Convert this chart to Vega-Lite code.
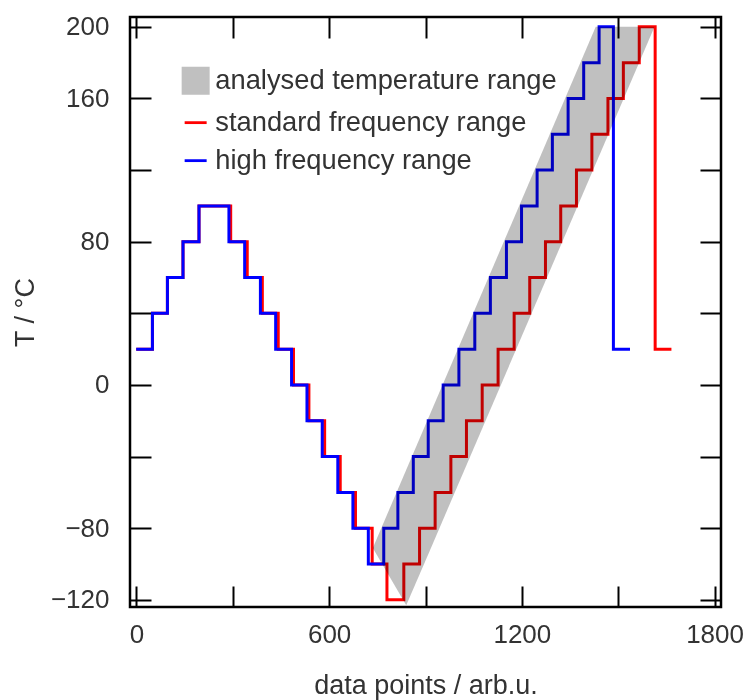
{
  "$schema": "https://vega.github.io/schema/vega-lite/v6.json",
  "width": 591,
  "height": 590,
  "autosize": "none",
  "padding": {"left": 130, "top": 17, "right": 24, "bottom": 93},
  "background": "white",
  "config": {
    "font": "Liberation Sans",
    "view": {"stroke": "black", "strokeWidth": 2.5},
    "axis": {"grid": false, "domain": false, "tickColor": "black", "tickWidth": 2, "labelFont": "Liberation Sans", "titleFont": "Liberation Sans", "labelFontSize": 26, "titleFontSize": 27, "labelColor": "#333333", "titleColor": "#333333", "titleFontWeight": "normal", "labelOverlap": false, "labelFlush": false},
    "legend": {"labelFont": "Liberation Sans", "labelFontSize": 27.3, "labelColor": "#333333", "labelLimit": 0}
  },
  "datasets": {
    "red": [
      {"x": 4, "T": 20}, {"x": 49.8, "T": 40}, {"x": 96.5, "T": 60}, {"x": 145, "T": 80}, {"x": 194.8, "T": 100},
      {"x": 293.5, "T": 80}, {"x": 345, "T": 60}, {"x": 392, "T": 40}, {"x": 441.5, "T": 20}, {"x": 489, "T": 0},
      {"x": 537, "T": -20}, {"x": 586, "T": -40}, {"x": 634.5, "T": -60}, {"x": 682, "T": -80}, {"x": 734, "T": -100},
      {"x": 780, "T": -120}, {"x": 832.5, "T": -100}, {"x": 881.5, "T": -80}, {"x": 930, "T": -60}, {"x": 979, "T": -40},
      {"x": 1027.5, "T": -20}, {"x": 1076.5, "T": 0}, {"x": 1126, "T": 20}, {"x": 1176, "T": 40}, {"x": 1224.5, "T": 60},
      {"x": 1273.5, "T": 80}, {"x": 1321, "T": 100}, {"x": 1370, "T": 120}, {"x": 1418, "T": 140}, {"x": 1468, "T": 160},
      {"x": 1516, "T": 180}, {"x": 1565.5, "T": 200}, {"x": 1615, "T": 20}, {"x": 1661, "T": 20}
    ],
    "blue": [
      {"x": 4, "T": 20}, {"x": 49.8, "T": 40}, {"x": 96.5, "T": 60}, {"x": 145, "T": 80}, {"x": 194.8, "T": 100},
      {"x": 288, "T": 80}, {"x": 337, "T": 60}, {"x": 386, "T": 40}, {"x": 433.5, "T": 20}, {"x": 483, "T": 0},
      {"x": 531, "T": -20}, {"x": 578.5, "T": -40}, {"x": 627, "T": -60}, {"x": 674, "T": -80}, {"x": 722, "T": -100},
      {"x": 770, "T": -80}, {"x": 814, "T": -60}, {"x": 862, "T": -40}, {"x": 908.5, "T": -20}, {"x": 955, "T": 0},
      {"x": 1004, "T": 20}, {"x": 1053.5, "T": 40}, {"x": 1102, "T": 60}, {"x": 1152, "T": 80}, {"x": 1199, "T": 100},
      {"x": 1247.5, "T": 120}, {"x": 1295, "T": 140}, {"x": 1344, "T": 160}, {"x": 1392.5, "T": 180}, {"x": 1440.5, "T": 200},
      {"x": 1485, "T": 20}, {"x": 1532, "T": 20}
    ],
    "band": [
      {"T": -123, "xl": 840, "xr": 840},
      {"T": -91, "xl": 736, "xr": 917},
      {"T": 200, "xl": 1430, "xr": 1613}
    ]
  },
  "resolve": {"axis": {"x": "independent", "y": "independent"}},
  "layer": [
    {
      "data": {"name": "red"},
      "transform": [{"calculate": "'standard frequency range'", "as": "series"}],
      "mark": {"type": "line", "interpolate": "step-after", "strokeWidth": 3, "strokeCap": "square"},
      "encoding": {
        "x": {"field": "x", "type": "quantitative", "scale": {"domain": [-20, 1820], "nice": false, "zero": false},
          "axis": {"orient": "bottom", "values": [0, 300, 600, 900, 1200, 1500, 1800],
            "labelExpr": "indexof([0, 600, 1200, 1800], datum.value) >= 0 ? datum.label : ''",
            "format": "d", "tickSize": -21, "labelPadding": 35,
            "title": "data points / arb.u.", "titleX": 295.5, "titleY": 86, "titleBaseline": "alphabetic", "titleAlign": "center"}},
        "y": {"field": "T", "type": "quantitative", "scale": {"domain": [-124, 205.5], "nice": false, "zero": false},
          "axis": {"orient": "left", "values": [-120, -80, -40, 0, 40, 80, 120, 160, 200],
            "labelExpr": "indexof([-120, -80, 0, 80, 160, 200], datum.value) >= 0 ? datum.label : ''",
            "tickSize": -21, "labelPadding": 42,
            "title": "T / °C", "titleX": -97, "titleY": 295, "titleAngle": -90, "titleBaseline": "alphabetic", "titleAlign": "center"}},
        "color": {"field": "series", "type": "nominal",
          "scale": {"domain": ["analysed temperature range", "standard frequency range", "high frequency range"], "range": ["#c0c0c0", "#ff0000", "#0000ff"]},
          "legend": {"orient": "none", "legendX": 52, "legendY": 50, "title": null, "padding": 0, "rowPadding": 10, "labelOffset": 6, "labelLimit": 0,
            "encode": {"symbols": {"update": {
              "shape": {"signal": "datum.index === 0 ? 'square' : 'stroke'"},
              "size": {"signal": "datum.index === 0 ? 676 : 484"},
              "fill": {"signal": "datum.index === 0 ? '#c0c0c0' : 'transparent'"},
              "stroke": {"signal": "datum.index === 0 ? '#dcdcdc' : (datum.index === 1 ? '#ff0000' : '#0000ff')"},
              "strokeWidth": {"signal": "datum.index === 0 ? 2 : 2.8"},
              "opacity": {"value": 1}
            }}}}}
      }
    },
    {
      "data": {"name": "blue"},
      "transform": [{"calculate": "'high frequency range'", "as": "series"}],
      "mark": {"type": "line", "interpolate": "step-after", "strokeWidth": 3, "strokeCap": "square"},
      "encoding": {
        "x": {"field": "x", "type": "quantitative", "axis": null},
        "y": {"field": "T", "type": "quantitative", "axis": null},
        "color": {"field": "series", "type": "nominal"}
      }
    },
    {
      "data": {"name": "band"},
      "transform": [{"calculate": "'analysed temperature range'", "as": "series"}],
      "mark": {"type": "area", "orient": "horizontal", "blend": "multiply", "opacity": 1},
      "encoding": {
        "y": {"field": "T", "type": "quantitative",
          "axis": {"orient": "right", "values": [-120, -80, -40, 0, 40, 80, 120, 160, 200], "labels": false, "tickSize": -21, "title": null}},
        "x": {"field": "xl", "type": "quantitative",
          "axis": {"orient": "top", "values": [0, 300, 600, 900, 1200, 1500, 1800], "labels": false, "tickSize": -21, "title": null}},
        "x2": {"field": "xr"},
        "color": {"field": "series", "type": "nominal"}
      }
    }
  ]
}
